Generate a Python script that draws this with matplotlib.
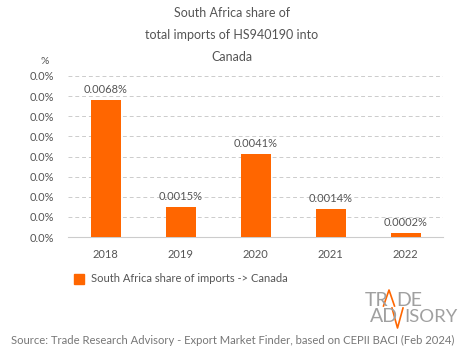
import matplotlib
matplotlib.use("Agg")
import matplotlib.pyplot as plt
from matplotlib.ticker import FuncFormatter, MultipleLocator
from matplotlib.lines import Line2D

years = ["2018", "2019", "2020", "2021", "2022"]
shares = [0.0068, 0.0015, 0.0041, 0.0014, 0.0002]
value_labels = ["0.0068%", "0.0015%", "0.0041%", "0.0014%", "0.0002%"]
title_lines = ["South Africa share of", "total imports of HS940190 into", "Canada"]
legend_label = "South Africa share of imports -> Canada"
source_text = "Source: Trade Research Advisory - Export Market Finder, based on CEPII BACI (Feb 2024)"

ORANGE = "#FF6600"
GRAY = "#555555"
plt.rcParams['font.family'] = ['Lato', 'DejaVu Sans']

W, H = 465, 359
fig = plt.figure(figsize=(W/100, H/100), dpi=100)
ax = fig.add_axes([68/W, 1-237/H, (443-68)/W, (237-76)/H])

x = range(len(years))
ax.bar(x, shares, width=0.4, color=ORANGE, zorder=3)
for i, (v, lab) in enumerate(zip(shares, value_labels)):
    ax.text(i, v + 0.00025, lab, ha='center', va='bottom', fontsize=8, color=GRAY)

ax.set_xlim(-0.5, len(years)-0.5)
ax.set_ylim(0, 0.008)
ax.yaxis.set_major_locator(MultipleLocator(0.001))
ax.yaxis.set_major_formatter(FuncFormatter(lambda v, p: f"{v:.1f}%"))
ax.set_xticks(list(x))
ax.set_xticklabels(years)
ax.tick_params(axis='both', length=0, labelsize=8, colors=GRAY)
ax.tick_params(axis='x', pad=9)
ax.tick_params(axis='y', pad=10)
ax.grid(axis='y', color='#cccccc', linestyle=(0, (4, 3)), linewidth=0.7, zorder=0)
for s in ['top', 'right', 'left']:
    ax.spines[s].set_visible(False)
ax.spines['bottom'].set_color('#cccccc')
ax.spines['bottom'].set_linewidth(0.8)

for i, line in enumerate(title_lines):
    fig.text(232/W, 1-(13+22*i)/H, line, ha='center', va='center', fontsize=9, color=GRAY)
fig.text(45/W, 1-61/H, "%", ha='center', va='center', fontsize=7.5, color=GRAY)

handle = Line2D([], [], marker='s', linestyle='none', markersize=7, color=ORANGE)
fig.legend([handle], [legend_label], loc='center left', bbox_to_anchor=(63/W, 1-279/H),
           frameon=False, fontsize=8, labelcolor=GRAY, handletextpad=0.15, borderaxespad=0)

# logo
LOGO_GRAY = '#a0a0a0'
fig.text(365/W, 1-306/H, "TR", ha='left', va='baseline', fontsize=14, color=LOGO_GRAY)
fig.text(396/W, 1-306/H, "DE", ha='left', va='baseline', fontsize=14, color=LOGO_GRAY)
fig.text(370/W, 1-322/H, "AD", ha='left', va='baseline', fontsize=14, color=LOGO_GRAY)
fig.text(404/W, 1-322/H, "ISORY", ha='left', va='baseline', fontsize=13.3, color=LOGO_GRAY)
fig.add_artist(Line2D([383.5/W, 389/W, 394.5/W], [1-306/H, 1-290/H, 1-306/H], color=ORANGE, lw=1.2))
fig.add_artist(Line2D([392/W, 397.5/W, 403/W], [1-308/H, 1-328/H, 1-308/H], color=ORANGE, lw=1.2))

fig.text(233/W, 1-340/H, source_text, ha='center', va='center', fontsize=8.15, color='#777777')

fig.savefig("out.png", dpi=100)
